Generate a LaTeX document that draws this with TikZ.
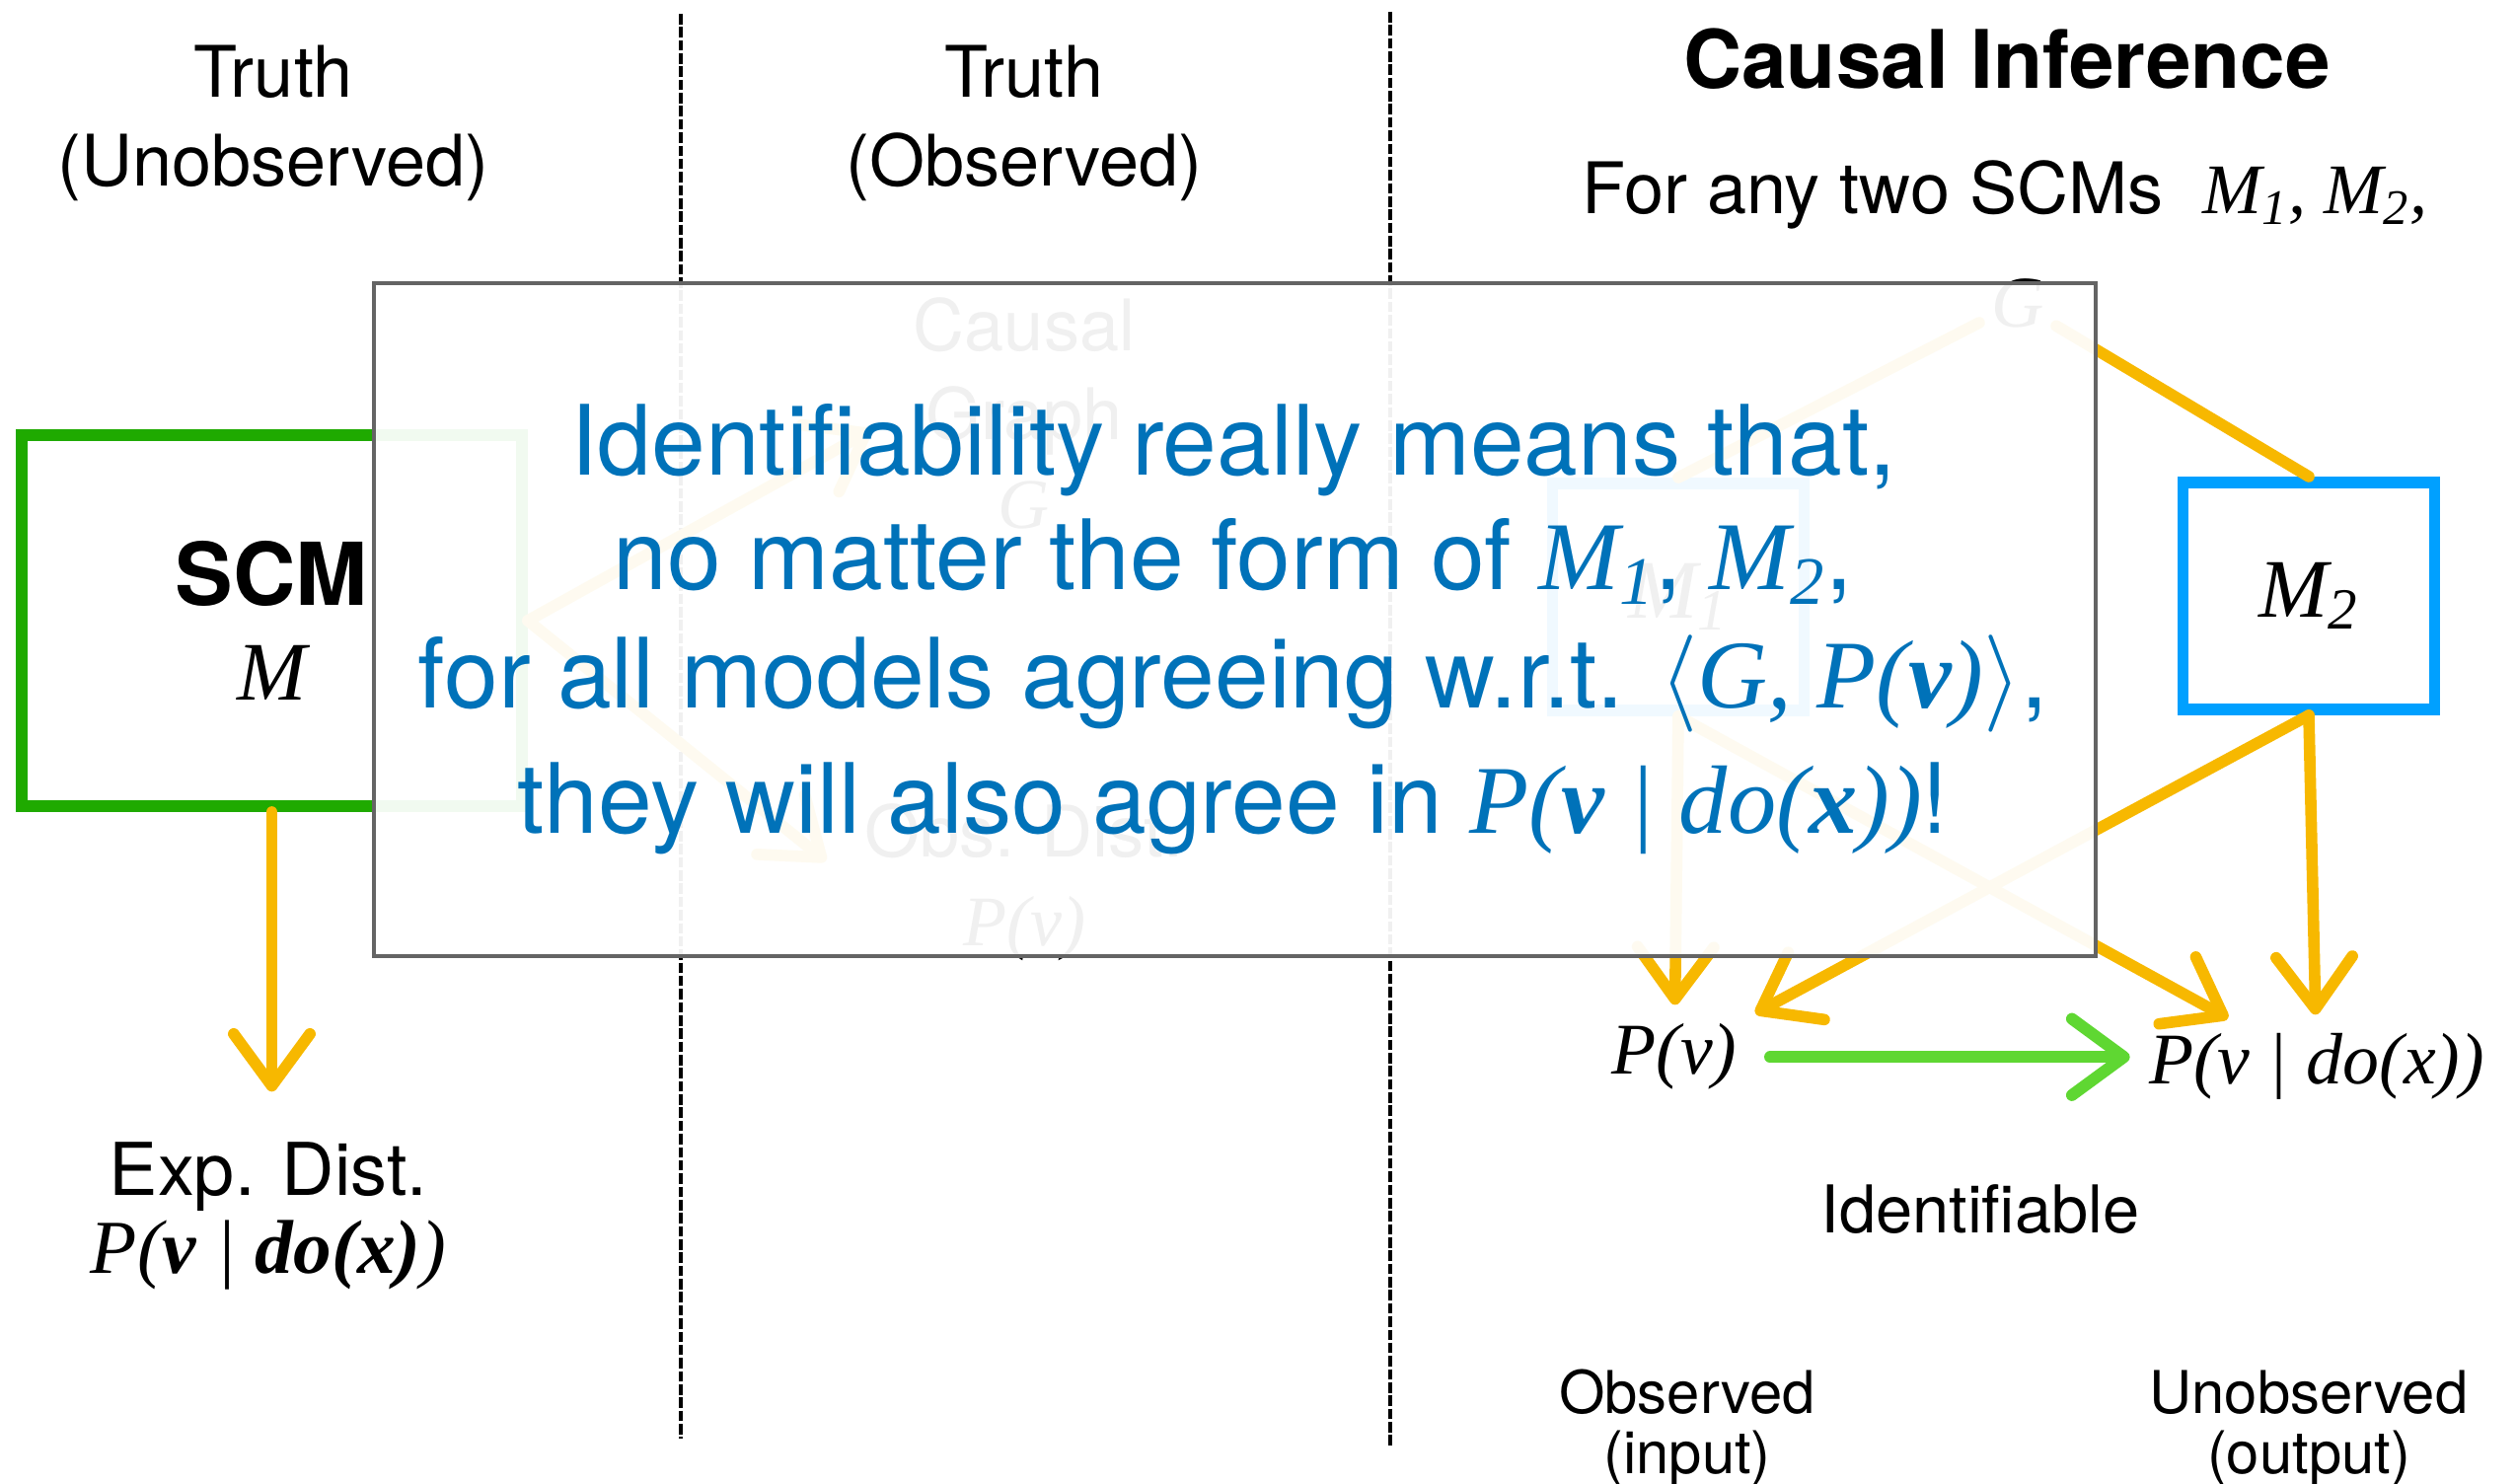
\RequirePackage{fix-cm}
\documentclass[tikz,border=0pt]{standalone}
\usepackage{fontspec}
\setmainfont{TeX Gyre Heros}
\newfontfamily\tms{Liberation Serif}
\usepackage{tikz}
\usetikzlibrary{positioning, arrows.meta}
\definecolor{ScmGreen}{RGB}{31,170,0}
\definecolor{ArrOrange}{RGB}{247,184,0}
\definecolor{ModelBlue}{RGB}{0,160,255}
\definecolor{IdGreen}{RGB}{95,215,50}
\definecolor{NoteBlue}{RGB}{0,114,185}
\definecolor{FrameGray}{RGB}{100,100,100}
\newcommand{\ti}[1]{{\tms\itshape #1}}
\newcommand{\tb}[1]{{\tms\itshape\bfseries #1}}
\tikzset{
  coltitle/.style={align=center, anchor=base, font=\fontsize{20.5}{25.7}\selectfont},
  lbl/.style={align=center, anchor=base, font=\fontsize{21}{22.7}\selectfont},
  sepline/.style={line width=1.2pt, dash pattern=on 3pt off 0.8pt},
  scmbox/.style={draw=ScmGreen, line width=3.4pt, minimum width=5.07cm, minimum height=3.76cm,
    align=center, font=\fontsize{25}{27.3}\selectfont},
  mbox/.style={draw=ModelBlue, line width=3.4pt, minimum width=2.55cm, minimum height=2.3cm,
    font=\fontsize{24}{24}\selectfont},
  garr/.style={-{Straight Barb[length=15pt, width=22pt, round]}, line width=3.3pt, ArrOrange, line cap=round},
  gline/.style={line width=3.3pt, ArrOrange, line cap=round},
  idarr/.style={-{Straight Barb[length=15pt, width=22pt, round]}, line width=3.4pt, IdGreen, line cap=round},
  notebox/.style={draw=FrameGray, line width=1.4pt, fill=white, fill opacity=0.94,
    minimum width=17.45cm, minimum height=6.82cm},
  noteline/.style={anchor=base, text=NoteBlue, font=\fontsize{28}{28}\selectfont},
}

\begin{document}
\begin{tikzpicture}
  \useasboundingbox (0,0) rectangle (25.51,15.04);
  \draw[sepline] (6.90,14.90) -- (6.90,0.46);
  \draw[sepline] (14.09,14.92) -- (14.09,0.39);

  \node[coltitle] (tu) at (2.77,13.15) {Truth\\(Unobserved)};
  \node[coltitle] (to) at (10.38,13.15) {Truth\\(Observed)};
  \node[anchor=base, font=\fontsize{23.3}{24}\selectfont\bfseries] (ci) at (20.34,14.14) {Causal Inference};
  \node[anchor=base, font=\fontsize{20.5}{24}\selectfont] (any) at (20.32,12.87)
    {For any two SCMs\ \ \ti{M\textsubscript{1}, M\textsubscript{2},}};

  \node[scmbox] (scm) at (2.755,8.75) {\bfseries SCM\\{\fontsize{24}{24}\selectfont\ti{M}}};
  \node[lbl] (exp) at (2.72,2.13) {Exp. Dist.\\{\fontsize{22}{22}\selectfont\ti{P(}\tb{v}\ti{ | }\tb{do(x)}\ti{)}}};
  \draw[garr, shorten >=11pt] (scm.south) -- (scm.south |- exp.north);

  \node[coltitle] (cg) at (10.38,9.68) {Causal\\Graph\\\ti{G}};
  \node[coltitle] (obs) at (10.38,5.45) {Obs. Dist.\\\ti{P(v)}};
  \draw[garr, shorten >=10pt] (scm.east) -- (cg.west);
  \draw[garr, shorten >=10pt] (scm.east) -- (obs.west);

  \node[font=\fontsize{21}{21}\selectfont] (g) at (20.45,11.97) {\ti{G}};
  \node[mbox] (m1) at (17.01,8.99) {\ti{M\textsubscript{1}}};
  \node[mbox] (m2) at (23.40,9.00) {\ti{M\textsubscript{2}}};
  \draw[gline] (g) -- (m1.north);
  \draw[gline] (g) -- (m2.north);
  \node[lbl] (pv) at (16.97,4.15) {\ti{P(v)}};
  \node[lbl] (pvdo) at (23.48,4.05) {\ti{P(v | do(x))}};
  \draw[garr, shorten >=2pt] (m1.south) -- (pv);
  \draw[garr, shorten >=2pt] (m1.south) -- (pvdo);
  \draw[garr, shorten >=2pt] (m2.south) -- (pv);
  \draw[garr, shorten >=2pt] (m2.south) -- (pvdo);
  \draw[idarr, shorten <=6pt, shorten >=2pt] (pv.east) -- (pv.east -| pvdo.west);

  \node[anchor=base, font=\fontsize{19}{19}\selectfont] (idf) at (20.07,2.54) {Identifiable};
  \node[anchor=base, align=center, font=\fontsize{17}{17.5}\selectfont] (obsin) at (17.10,0.10) {Observed\\(input)};
  \node[anchor=base, align=center, font=\fontsize{17}{17.5}\selectfont] (unout) at (23.40,0.10) {Unobserved\\(output)};

  \node[notebox] (note) at (12.515,8.76) {};
  \node[noteline] (n1) at (12.50,10.22) {Identifiability really means that,};
  \node[noteline] (n2) at (12.50,9.06) {no matter the form of \ti{M\textsubscript{1}}, \ti{M\textsubscript{2}},};
  \node[noteline] (n3) at (12.50,7.86) {for all models agreeing w.r.t. $\langle$\ti{G, P(}\tb{v}\ti{)}$\rangle$,};
  \node[noteline] (n4) at (12.50,6.59) {they will also agree in \ti{P(}\tb{v}\ti{ | do(}\tb{x}\ti{))}!};
\end{tikzpicture}
\end{document}
